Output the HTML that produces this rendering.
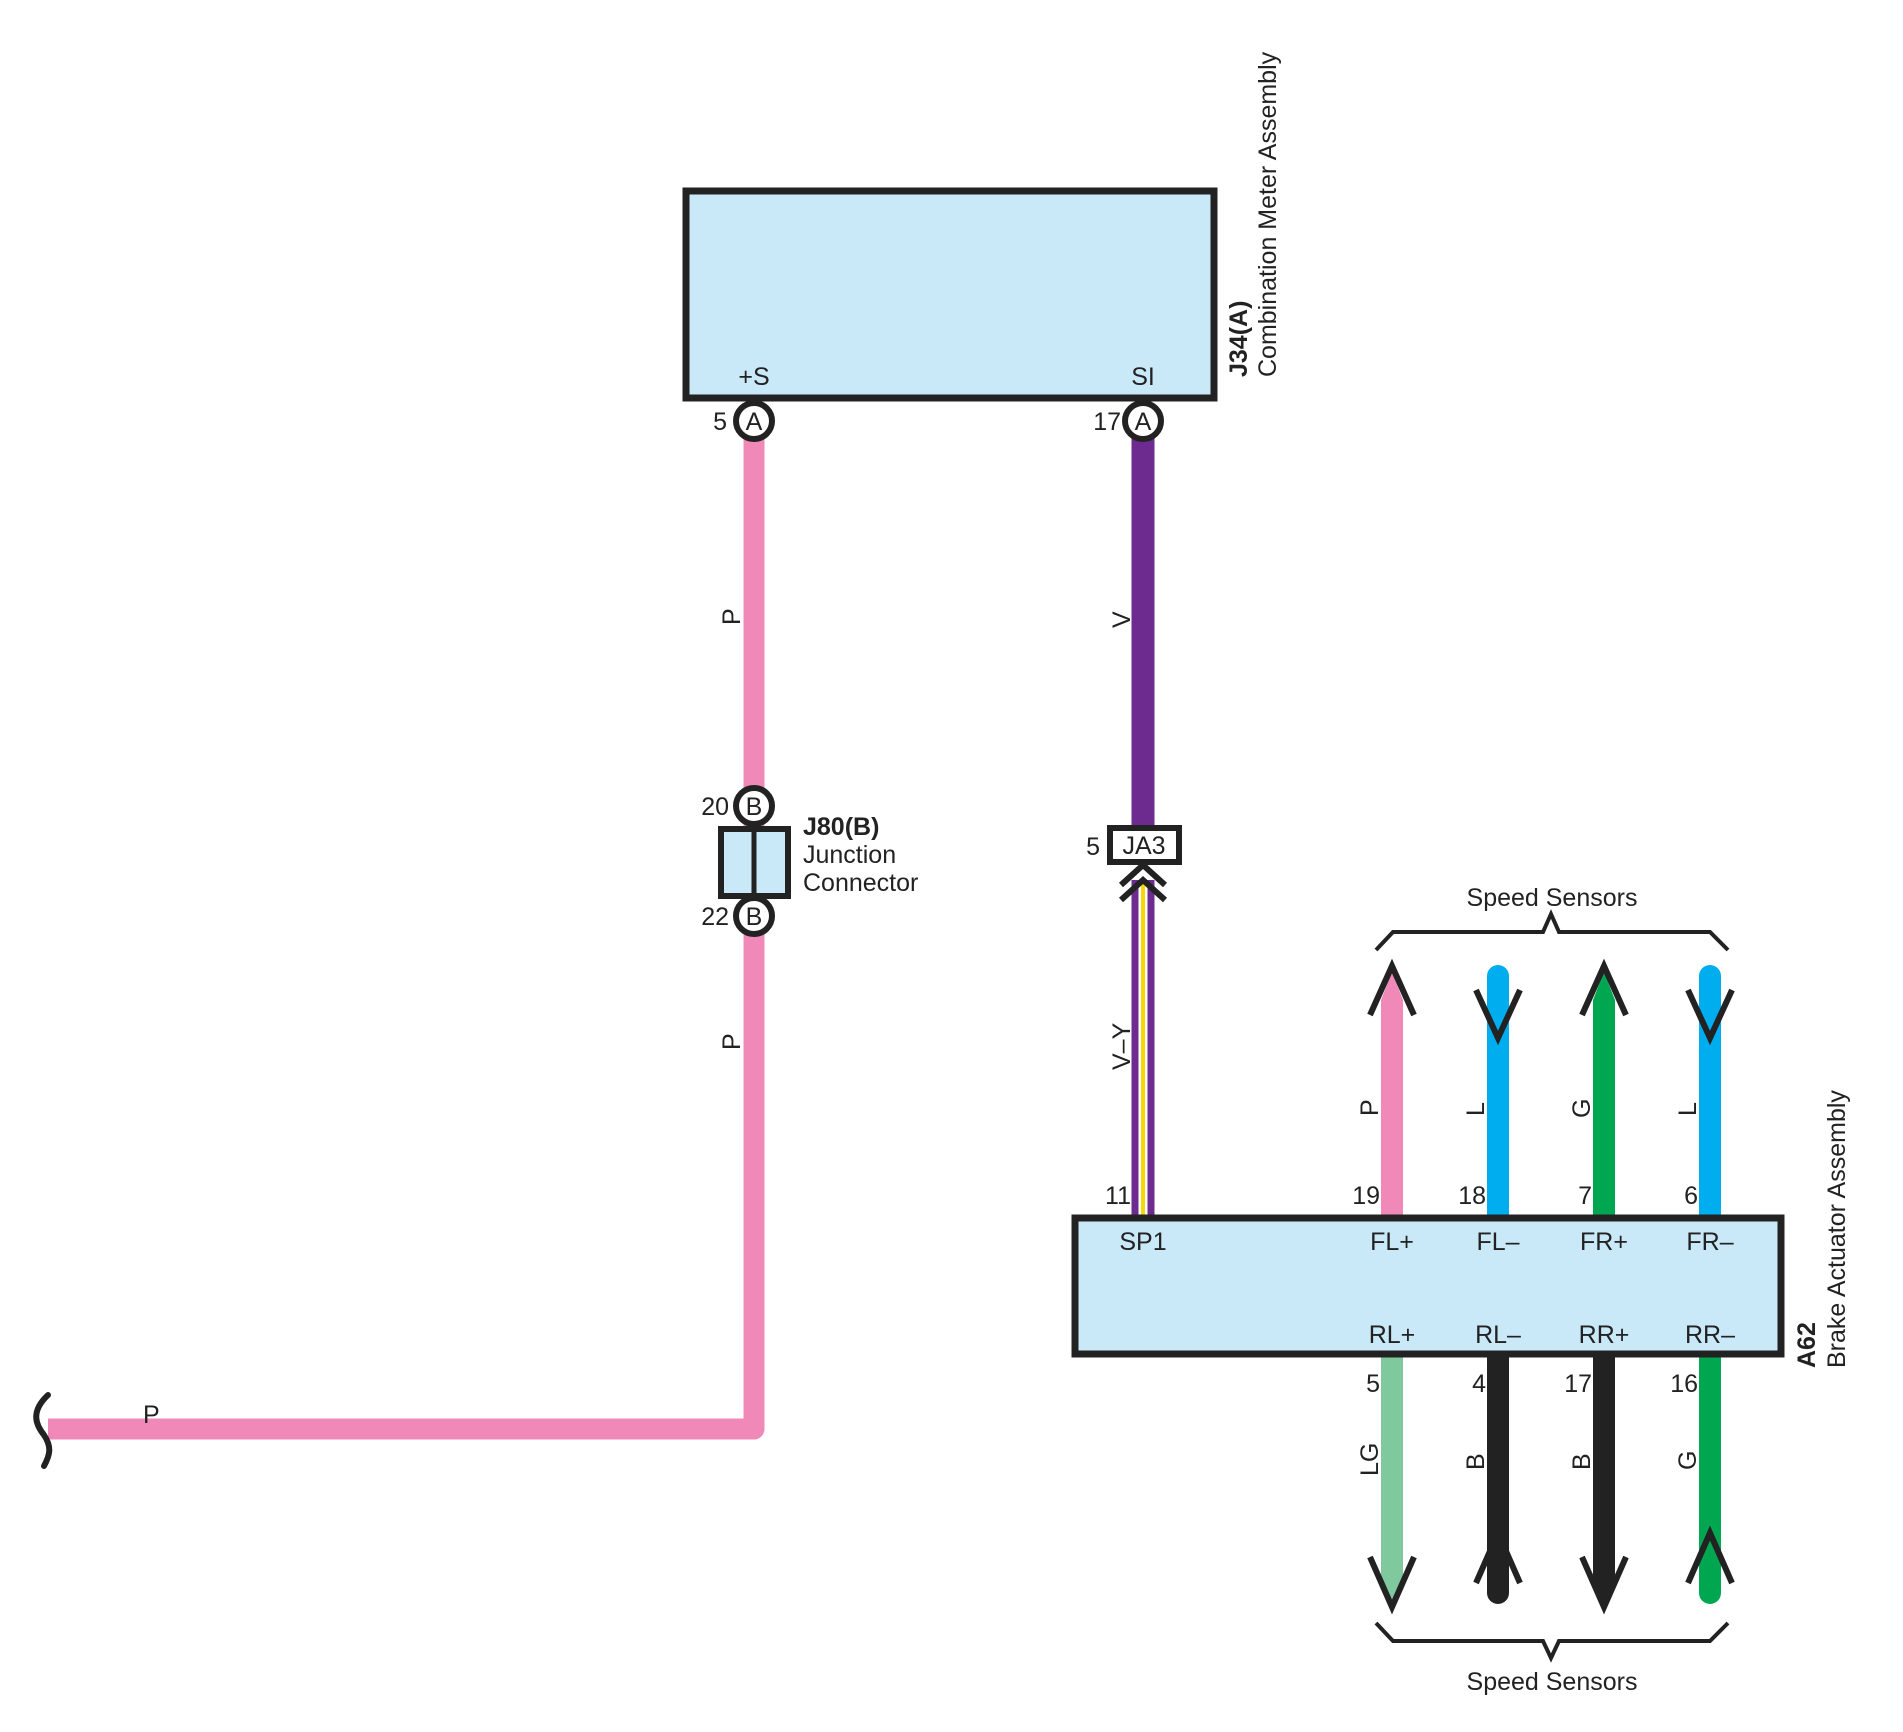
<!DOCTYPE html>
<html><head><meta charset="utf-8"><style>
html,body{margin:0;padding:0;background:#fff}
svg{display:block}
text{font-family:"Liberation Sans",Arial,sans-serif;fill:#222;font-size:25px}
</style></head><body>
<svg width="1903" height="1732" viewBox="0 0 1903 1732" xmlns="http://www.w3.org/2000/svg">
<!-- Pink wire -->
<path d="M754 419 V1429 H48" fill="none" stroke="#f088b8" stroke-width="21" stroke-linejoin="round"/>
<path d="M48 1395 C30 1412,36 1425,44 1435 C52 1447,50 1455,44 1466" fill="none" stroke="#222" stroke-width="6" stroke-linecap="round"/>
<text x="143" y="1423">P</text>
<text transform="translate(740,625) rotate(-90)">P</text>
<text transform="translate(740,1050) rotate(-90)">P</text>

<!-- V wire -->
<line x1="1143" y1="419" x2="1143" y2="830" stroke="#6d2b8f" stroke-width="23"/>
<text transform="translate(1130,628) rotate(-90)">V</text>
<!-- V-Y wire -->
<line x1="1135" y1="880" x2="1135" y2="1215" stroke="#6d2b8f" stroke-width="7"/>
<line x1="1151" y1="880" x2="1151" y2="1215" stroke="#6d2b8f" stroke-width="7"/>
<line x1="1143" y1="880" x2="1143" y2="1215" stroke="#f7d800" stroke-width="4"/>
<text transform="translate(1130,1070) rotate(-90)">V–Y</text>
<polyline points="1121,885 1143,865 1165,885" fill="none" stroke="#222" stroke-width="6"/>
<polyline points="1121,900 1143,880 1165,900" fill="none" stroke="#222" stroke-width="6"/>

<!-- Combination meter -->
<rect x="686" y="191" width="528" height="207" fill="#c9e8f8" stroke="#222" stroke-width="7"/>
<text x="754" y="385" text-anchor="middle">+S</text>
<text x="1143" y="385" text-anchor="middle">SI</text>
<circle cx="754" cy="421" r="18" fill="#fff" stroke="#222" stroke-width="6"/>
<text x="754" y="430" text-anchor="middle">A</text>
<circle cx="1143" cy="421" r="18" fill="#fff" stroke="#222" stroke-width="6"/>
<text x="1143" y="430" text-anchor="middle">A</text>
<text x="727" y="430" text-anchor="end">5</text>
<text x="1121" y="430" text-anchor="end">17</text>
<text transform="translate(1247,377) rotate(-90)" font-weight="bold">J34(A)</text>
<text transform="translate(1276,377) rotate(-90)">Combination Meter Assembly</text>

<!-- Junction connector -->
<rect x="721" y="829" width="67" height="67" fill="#c9e8f8" stroke="#222" stroke-width="6"/>
<line x1="754" y1="829" x2="754" y2="896" stroke="#222" stroke-width="5"/>
<circle cx="754" cy="806" r="18" fill="#fff" stroke="#222" stroke-width="6"/>
<text x="754" y="815" text-anchor="middle">B</text>
<circle cx="754" cy="916" r="18" fill="#fff" stroke="#222" stroke-width="6"/>
<text x="754" y="925" text-anchor="middle">B</text>
<text x="729" y="815" text-anchor="end">20</text>
<text x="729" y="925" text-anchor="end">22</text>
<text x="803" y="835" font-weight="bold">J80(B)</text>
<text x="803" y="863">Junction</text>
<text x="803" y="891">Connector</text>

<!-- JA3 -->
<rect x="1110" y="828" width="69" height="34" fill="#fff" stroke="#222" stroke-width="6"/>
<text x="1144" y="854" text-anchor="middle" font-size="23">JA3</text>
<text x="1100" y="855" text-anchor="end">5</text>

<!-- Sensor wires top -->
<line x1="1392" y1="1000" x2="1392" y2="1215" stroke="#f088b8" stroke-width="22"/>
<polygon points="1381,1000 1392,972 1403,1000" fill="#f088b8"/>
<line x1="1498" y1="976" x2="1498" y2="1215" stroke="#00aeef" stroke-width="22" stroke-linecap="round"/>
<line x1="1604" y1="1000" x2="1604" y2="1215" stroke="#00a650" stroke-width="22"/>
<polygon points="1593,1000 1604,972 1615,1000" fill="#00a650"/>
<line x1="1710" y1="976" x2="1710" y2="1215" stroke="#00aeef" stroke-width="22" stroke-linecap="round"/>
<polyline points="1370,1015 1392,966 1414,1015" fill="none" stroke="#222" stroke-width="6"/>
<polyline points="1582,1015 1604,966 1626,1015" fill="none" stroke="#222" stroke-width="6"/>
<polyline points="1476,990 1498,1038 1520,990" fill="none" stroke="#222" stroke-width="6"/>
<polyline points="1688,990 1710,1038 1732,990" fill="none" stroke="#222" stroke-width="6"/>

<!-- Sensor wires bottom -->
<line x1="1392" y1="1357" x2="1392" y2="1575" stroke="#80c99e" stroke-width="22"/>
<polygon points="1381,1575 1392,1602 1403,1575" fill="#80c99e"/>
<line x1="1498" y1="1357" x2="1498" y2="1593" stroke="#222" stroke-width="22" stroke-linecap="round"/>
<line x1="1604" y1="1357" x2="1604" y2="1575" stroke="#222" stroke-width="22"/>
<polygon points="1593,1575 1604,1604 1615,1575" fill="#222"/>
<line x1="1710" y1="1357" x2="1710" y2="1593" stroke="#00a650" stroke-width="22" stroke-linecap="round"/>
<polyline points="1370,1557 1392,1607 1414,1557" fill="none" stroke="#222" stroke-width="6"/>
<polyline points="1582,1557 1604,1607 1626,1557" fill="none" stroke="#222" stroke-width="6"/>
<polyline points="1476,1583 1498,1533 1520,1583" fill="none" stroke="#222" stroke-width="6"/>
<polyline points="1688,1583 1710,1533 1732,1583" fill="none" stroke="#222" stroke-width="6"/>

<!-- Brackets -->
<polyline points="1376,950 1393,932 1543,932 1551,914 1559,932 1710,932 1728,950" fill="none" stroke="#222" stroke-width="4"/>
<text x="1552" y="906" text-anchor="middle">Speed Sensors</text>
<polyline points="1376,1623 1393,1641 1543,1641 1551,1658 1559,1641 1710,1641 1728,1623" fill="none" stroke="#222" stroke-width="4"/>
<text x="1552" y="1690" text-anchor="middle">Speed Sensors</text>

<!-- Brake actuator box -->
<rect x="1075" y="1218" width="706" height="136" fill="#c9e8f8" stroke="#222" stroke-width="7"/>
<text x="1143" y="1250" text-anchor="middle">SP1</text>
<text x="1392" y="1250" text-anchor="middle">FL+</text>
<text x="1498" y="1250" text-anchor="middle">FL–</text>
<text x="1604" y="1250" text-anchor="middle">FR+</text>
<text x="1710" y="1250" text-anchor="middle">FR–</text>
<text x="1392" y="1343" text-anchor="middle">RL+</text>
<text x="1498" y="1343" text-anchor="middle">RL–</text>
<text x="1604" y="1343" text-anchor="middle">RR+</text>
<text x="1710" y="1343" text-anchor="middle">RR–</text>
<text x="1131" y="1204" text-anchor="end">11</text>
<text x="1380" y="1204" text-anchor="end">19</text>
<text x="1486" y="1204" text-anchor="end">18</text>
<text x="1592" y="1204" text-anchor="end">7</text>
<text x="1698" y="1204" text-anchor="end">6</text>
<text x="1380" y="1392" text-anchor="end">5</text>
<text x="1486" y="1392" text-anchor="end">4</text>
<text x="1592" y="1392" text-anchor="end">17</text>
<text x="1698" y="1392" text-anchor="end">16</text>
<text transform="translate(1378,1116) rotate(-90)">P</text>
<text transform="translate(1484,1116) rotate(-90)">L</text>
<text transform="translate(1590,1118) rotate(-90)">G</text>
<text transform="translate(1696,1116) rotate(-90)">L</text>
<text transform="translate(1378,1476) rotate(-90)">LG</text>
<text transform="translate(1484,1470) rotate(-90)">B</text>
<text transform="translate(1590,1470) rotate(-90)">B</text>
<text transform="translate(1696,1470) rotate(-90)">G</text>
<text transform="translate(1815,1368) rotate(-90)" font-weight="bold">A62</text>
<text transform="translate(1845,1368) rotate(-90)">Brake Actuator Assembly</text>
</svg>
</body></html>
